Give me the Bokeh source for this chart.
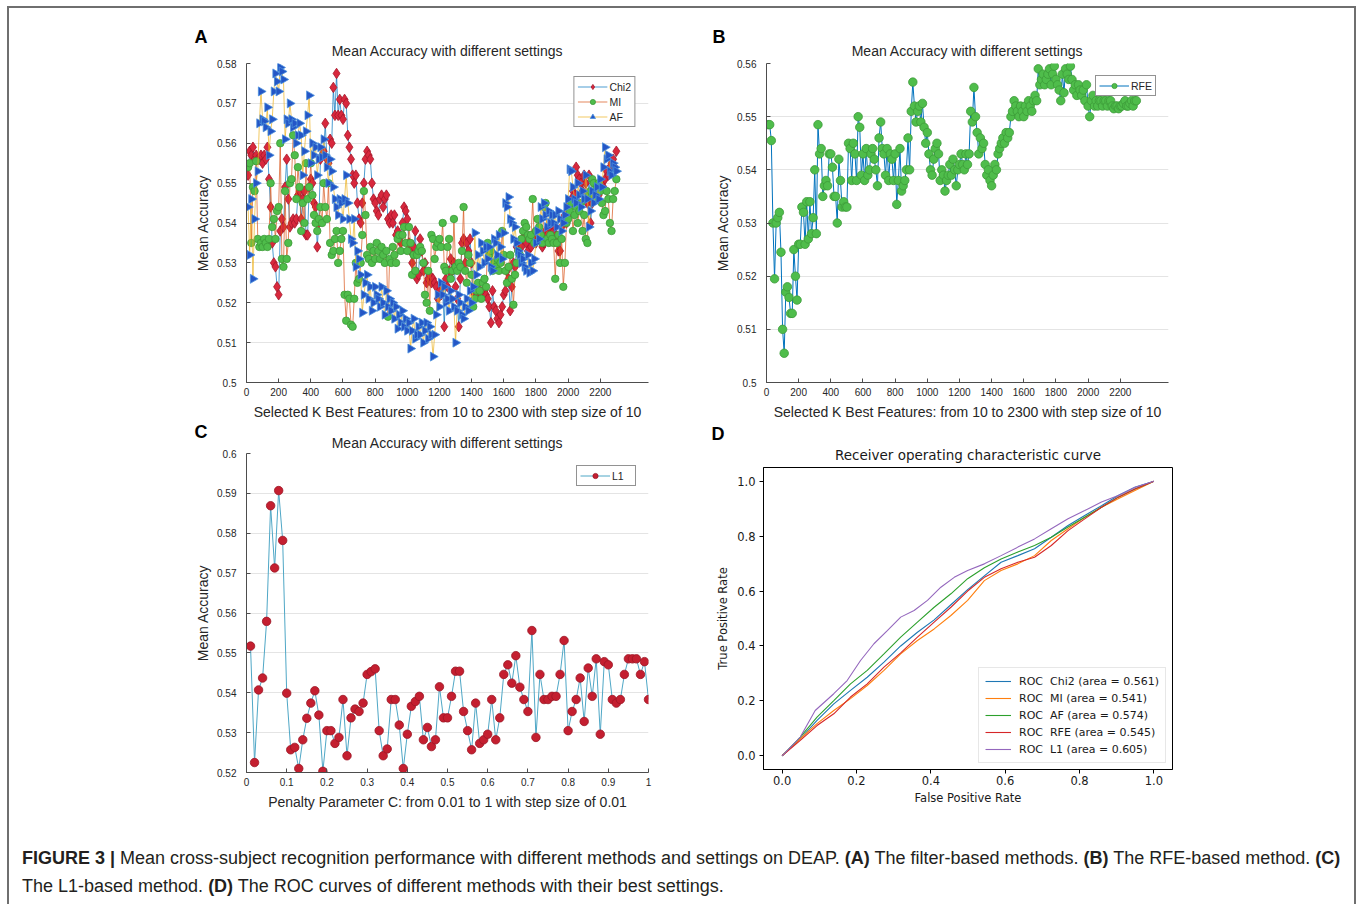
from bokeh.plotting import figure
from bokeh.models import (Range1d, FixedTicker, CustomJSTickFormatter, PrintfTickFormatter, Legend,
                          LegendItem, Title, Div, Spacer)
from bokeh.layouts import row, column
from bokeh.embed import file_html
from bokeh.resources import INLINE

# ---------------- data ----------------
k_best = list(range(10, 2301, 10))

chi2 = [
    0.552, 0.558, 0.557, 0.559, 0.556, 0.557, 0.556, 0.556, 0.557, 0.555,
    0.557, 0.556, 0.559, 0.551, 0.544, 0.535, 0.530, 0.529, 0.524, 0.522,
    0.538, 0.541, 0.539, 0.549, 0.556, 0.546, 0.539, 0.540, 0.541, 0.540,
    0.541, 0.547, 0.548, 0.541, 0.546, 0.548, 0.537, 0.537, 0.549, 0.551,
    0.550, 0.545, 0.544, 0.534, 0.540, 0.556, 0.557, 0.558, 0.565, 0.556,
    0.555, 0.561, 0.560, 0.574, 0.567, 0.5775, 0.567, 0.571, 0.567, 0.566,
    0.571, 0.570, 0.562, 0.559, 0.556, 0.552, 0.550, 0.552, 0.545, 0.541,
    0.540, 0.545, 0.550, 0.556, 0.558, 0.557, 0.556, 0.550, 0.546, 0.545,
    0.543, 0.542, 0.546, 0.547, 0.544, 0.546, 0.547, 0.541, 0.540, 0.542,
    0.540, 0.542, 0.537, 0.538, 0.536, 0.535, 0.540, 0.544, 0.543, 0.541,
    0.535, 0.533, 0.530, 0.534, 0.538, 0.526, 0.527, 0.536, 0.533, 0.528,
    0.530, 0.525, 0.526, 0.527, 0.525, 0.526, 0.525, 0.524, 0.521, 0.523,
    0.522, 0.524, 0.514, 0.526, 0.524, 0.528, 0.531, 0.528, 0.530, 0.524,
    0.521, 0.514, 0.526, 0.535, 0.536, 0.530, 0.535, 0.533, 0.536, 0.530,
    0.523, 0.522, 0.523, 0.522, 0.523, 0.522, 0.523, 0.523, 0.522, 0.521,
    0.519, 0.515, 0.523, 0.519, 0.518, 0.516, 0.515, 0.517, 0.519, 0.522,
    0.523, 0.528, 0.526, 0.518, 0.524, 0.530, 0.529, 0.534, 0.533, 0.532,
    0.534, 0.536, 0.537, 0.535, 0.533, 0.536, 0.534, 0.537, 0.536, 0.535,
    0.537, 0.538, 0.536, 0.534, 0.535, 0.538, 0.537, 0.536, 0.539, 0.537,
    0.538, 0.539, 0.536, 0.533, 0.533, 0.539, 0.541, 0.542, 0.540, 0.542,
    0.545, 0.546, 0.548, 0.547, 0.554, 0.552, 0.551, 0.550, 0.548, 0.552,
    0.550, 0.545, 0.552, 0.540, 0.545, 0.547, 0.546, 0.548, 0.547, 0.549,
    0.550, 0.549, 0.551, 0.553, 0.552, 0.554, 0.555, 0.556, 0.554, 0.558,
]

mi = [
    0.554, 0.555, 0.535, 0.549, 0.548, 0.5555, 0.536, 0.534, 0.535, 0.534,
    0.536, 0.535, 0.534, 0.536, 0.550, 0.539, 0.541, 0.536, 0.543, 0.544,
    0.560, 0.531, 0.529, 0.548, 0.531, 0.535, 0.550, 0.551, 0.562, 0.557,
    0.546, 0.554, 0.549, 0.538, 0.545, 0.540, 0.555, 0.546, 0.549, 0.555,
    0.547, 0.542, 0.540, 0.538, 0.541, 0.544, 0.540, 0.550, 0.544, 0.541,
    0.550, 0.535, 0.532, 0.533, 0.536, 0.538, 0.530, 0.533, 0.536, 0.538,
    0.522, 0.5155, 0.522, 0.521, 0.5145, 0.514, 0.521, 0.530, 0.525, 0.526,
    0.530, 0.537, 0.548, 0.542, 0.532, 0.531, 0.534, 0.530, 0.533, 0.531,
    0.535, 0.533, 0.531, 0.534, 0.532, 0.530, 0.533, 0.5165, 0.531, 0.530,
    0.534, 0.532, 0.530, 0.536, 0.537, 0.533, 0.537, 0.539, 0.535, 0.533,
    0.539, 0.535, 0.527, 0.532, 0.528, 0.532, 0.533, 0.534, 0.533, 0.530,
    0.522, 0.520, 0.528, 0.518, 0.537, 0.536, 0.531, 0.534, 0.535, 0.536,
    0.534, 0.540, 0.529, 0.528, 0.534, 0.536, 0.526, 0.528, 0.541, 0.529,
    0.528, 0.530, 0.529, 0.533, 0.544, 0.528, 0.525, 0.532, 0.530, 0.527,
    0.519, 0.521, 0.523, 0.525, 0.523, 0.521, 0.525, 0.526, 0.524, 0.535,
    0.532, 0.533, 0.528, 0.530, 0.529, 0.531, 0.528, 0.530, 0.538, 0.532,
    0.528, 0.525, 0.529, 0.532, 0.526, 0.5195, 0.527, 0.530, 0.533, 0.532,
    0.536, 0.538, 0.540, 0.539, 0.537, 0.536, 0.537, 0.546, 0.535, 0.538,
    0.541, 0.539, 0.537, 0.535, 0.544, 0.545, 0.536, 0.535, 0.537, 0.536,
    0.535, 0.526, 0.535, 0.537, 0.530, 0.536, 0.524, 0.530, 0.540, 0.541,
    0.543, 0.545, 0.538, 0.542, 0.544, 0.540, 0.543, 0.545, 0.538, 0.542,
    0.536, 0.535, 0.547, 0.548, 0.551, 0.550, 0.546, 0.549, 0.550, 0.548,
    0.545, 0.542, 0.543, 0.548, 0.546, 0.540, 0.538, 0.546, 0.548, 0.551,
]

af = [
    0.544, 0.532, 0.546, 0.526, 0.541, 0.550, 0.553, 0.565, 0.573, 0.566,
    0.5655, 0.564, 0.569, 0.557, 0.563, 0.566, 0.573, 0.5775, 0.5755, 0.573,
    0.579, 0.578, 0.576, 0.561, 0.566, 0.565, 0.570, 0.566, 0.564, 0.565,
    0.560, 0.562, 0.565, 0.562, 0.552, 0.558, 0.563, 0.567, 0.572, 0.555,
    0.560, 0.557, 0.559, 0.552, 0.556, 0.559, 0.5565, 0.561, 0.557, 0.554,
    0.550, 0.556, 0.553, 0.549, 0.546, 0.544, 0.542, 0.546, 0.545, 0.541,
    0.546, 0.552, 0.545, 0.541, 0.536, 0.535, 0.541, 0.529, 0.533, 0.531,
    0.527, 0.5175, 0.522, 0.525, 0.527, 0.521, 0.524, 0.518, 0.520, 0.524,
    0.522, 0.521, 0.519, 0.524, 0.520, 0.517, 0.523, 0.519, 0.521, 0.518,
    0.520, 0.516, 0.519, 0.5135, 0.517, 0.515, 0.518, 0.514, 0.516, 0.513,
    0.515, 0.5085, 0.513, 0.516, 0.511, 0.512, 0.514, 0.512, 0.515, 0.510,
    0.513, 0.515, 0.511, 0.514, 0.512, 0.5065, 0.512, 0.517, 0.522, 0.519,
    0.525, 0.522, 0.524, 0.520, 0.521, 0.518, 0.523, 0.521, 0.519, 0.510,
    0.518, 0.522, 0.520, 0.517, 0.516, 0.519, 0.521, 0.518, 0.523, 0.520,
    0.524, 0.5375, 0.527, 0.532, 0.529, 0.535, 0.533, 0.530, 0.534, 0.531,
    0.534, 0.529, 0.528, 0.536, 0.535, 0.532, 0.537, 0.534, 0.531, 0.5375,
    0.545, 0.544, 0.5465, 0.541, 0.540, 0.536, 0.539, 0.535, 0.533, 0.532,
    0.530, 0.531, 0.529, 0.528, 0.532, 0.5275, 0.530, 0.528, 0.531, 0.535,
    0.538, 0.536, 0.544, 0.541, 0.545, 0.542, 0.539, 0.543, 0.540, 0.542,
    0.540, 0.542, 0.539, 0.543, 0.541, 0.538, 0.540, 0.542, 0.544, 0.546,
    0.5535, 0.553, 0.549, 0.546, 0.545, 0.550, 0.547, 0.544, 0.548, 0.546,
    0.552, 0.546, 0.539, 0.543, 0.548, 0.545, 0.547, 0.549, 0.546, 0.551,
    0.549, 0.554, 0.559, 0.556, 0.557, 0.553, 0.552, 0.555, 0.554, 0.553,
]

rfe = [
    0.5485, 0.5485, 0.5455, 0.530, 0.5195, 0.530, 0.531, 0.532, 0.5245, 0.510,
    0.5055, 0.517, 0.518, 0.516, 0.513, 0.513, 0.525, 0.520, 0.5155, 0.526,
    0.526, 0.533, 0.532, 0.526, 0.534, 0.527, 0.534, 0.528, 0.531, 0.540,
    0.528, 0.5485, 0.543, 0.544, 0.535, 0.537, 0.538, 0.537, 0.543, 0.543,
    0.5405, 0.535, 0.535, 0.530, 0.542, 0.538, 0.533, 0.534, 0.533, 0.533,
    0.545, 0.544, 0.538, 0.545, 0.543, 0.538, 0.550, 0.548, 0.539, 0.543,
    0.538, 0.544, 0.539, 0.540, 0.543, 0.544, 0.542, 0.540, 0.537, 0.546,
    0.549, 0.544, 0.543, 0.539, 0.544, 0.538, 0.543, 0.542, 0.538, 0.543,
    0.5335, 0.538, 0.544, 0.536, 0.537, 0.538, 0.540, 0.546, 0.540, 0.551,
    0.5565, 0.552, 0.549, 0.551, 0.552, 0.549, 0.5525, 0.548, 0.545, 0.547,
    0.543, 0.540, 0.539, 0.542, 0.544, 0.545, 0.543, 0.538, 0.540, 0.539,
    0.536, 0.538, 0.539, 0.541, 0.539, 0.542, 0.540, 0.537, 0.540, 0.541,
    0.543, 0.541, 0.540, 0.543, 0.541, 0.543, 0.551, 0.549, 0.5555, 0.550,
    0.547, 0.543, 0.546, 0.544, 0.545, 0.541, 0.539, 0.540, 0.538, 0.537,
    0.539, 0.541, 0.540, 0.543, 0.544, 0.545, 0.546, 0.545, 0.547, 0.546,
    0.547, 0.550, 0.551, 0.553, 0.552, 0.551, 0.550, 0.552, 0.551, 0.550,
    0.552, 0.551, 0.553, 0.552, 0.551, 0.553, 0.554, 0.553, 0.559, 0.556,
    0.557, 0.558, 0.556, 0.557, 0.558, 0.559, 0.556, 0.558, 0.5595, 0.557,
    0.556, 0.555, 0.553, 0.558, 0.5545, 0.559, 0.558, 0.557, 0.5595, 0.557,
    0.555, 0.556, 0.554, 0.556, 0.555, 0.554, 0.555, 0.553, 0.556, 0.552,
    0.550, 0.553, 0.554, 0.552, 0.553, 0.552, 0.553, 0.553, 0.552, 0.553,
    0.553, 0.552, 0.553, 0.553, 0.552, 0.5515, 0.552, 0.552, 0.5515, 0.552,
    0.552, 0.5525, 0.553, 0.552, 0.552, 0.5525, 0.553, 0.552, 0.553, 0.553,
]

penalty_c = [round(0.01 * i, 2) for i in range(1, 101)]
l1 = [
    0.5517, 0.5225, 0.5407, 0.5437, 0.5579, 0.5869, 0.5713, 0.5907, 0.5782, 0.5399,
    0.5257, 0.5263, 0.5210, 0.5282, 0.5336, 0.5374, 0.5405, 0.5344, 0.5203, 0.5305,
    0.5305, 0.5273, 0.5288, 0.5383, 0.5242, 0.5337, 0.5359, 0.5353, 0.5374, 0.5446,
    0.5453, 0.5460, 0.5305, 0.5242, 0.5259, 0.5383, 0.5383, 0.5319, 0.5210, 0.5296,
    0.5366, 0.5378, 0.5391, 0.5282, 0.5313, 0.5265, 0.5282, 0.5415, 0.5337, 0.5337,
    0.5391, 0.5454, 0.5454, 0.5353, 0.5305, 0.5257, 0.5374, 0.5273, 0.5282, 0.5296,
    0.5383, 0.5282, 0.5337, 0.5446, 0.5470, 0.5424, 0.5493, 0.5414, 0.5383, 0.5353,
    0.5556, 0.5288, 0.5446, 0.5383, 0.5383, 0.5391, 0.5391, 0.5446, 0.5531, 0.5305,
    0.5353, 0.5383, 0.5437, 0.5328, 0.5462, 0.5391, 0.5485, 0.5296, 0.5478, 0.5470,
    0.5383, 0.5374, 0.5383, 0.5446, 0.5485, 0.5485, 0.5485, 0.5446, 0.5478, 0.5383,
]

# ROC curves (panel D)
fpr_l1 = [0, 0.049, 0.089, 0.139, 0.175, 0.211, 0.247, 0.283, 0.319, 0.355, 0.391, 0.427,
          0.463, 0.499, 0.544, 0.589, 0.634, 0.679, 0.724, 0.769, 0.814, 0.859, 0.904, 0.949, 1.0]
tpr_l1 = [0, 0.068, 0.165, 0.226, 0.274, 0.347, 0.408, 0.456, 0.505, 0.529, 0.566, 0.614,
          0.650, 0.675, 0.699, 0.729, 0.760, 0.790, 0.827, 0.863, 0.893, 0.924, 0.948, 0.978, 1.0]
fpr_grid = [0, 0.049, 0.094, 0.139, 0.184, 0.229, 0.274, 0.319, 0.364, 0.409, 0.454, 0.499,
            0.544, 0.589, 0.634, 0.679, 0.724, 0.769, 0.814, 0.859, 0.904, 0.949, 1.0]
tpr_chi2 = [0, 0.062, 0.129, 0.189, 0.238, 0.286, 0.341, 0.400, 0.450, 0.495, 0.550, 0.605,
            0.655, 0.705, 0.729, 0.754, 0.796, 0.839, 0.875, 0.911, 0.948, 0.978, 1.0]
tpr_mi = [0, 0.062, 0.117, 0.165, 0.208, 0.256, 0.311, 0.371, 0.420, 0.462, 0.511, 0.566,
          0.638, 0.675, 0.699, 0.729, 0.784, 0.827, 0.869, 0.905, 0.936, 0.966, 1.0]
tpr_af = [0, 0.068, 0.141, 0.201, 0.262, 0.311, 0.371, 0.432, 0.487, 0.541, 0.590, 0.645,
          0.685, 0.717, 0.742, 0.766, 0.796, 0.833, 0.869, 0.905, 0.942, 0.972, 1.0]
tpr_rfe = [0, 0.056, 0.110, 0.153, 0.214, 0.262, 0.323, 0.375, 0.432, 0.487, 0.541, 0.600,
           0.650, 0.681, 0.705, 0.723, 0.766, 0.820, 0.863, 0.905, 0.942, 0.972, 1.0]

roc_labels = ["ROC  Chi2 (area = 0.561)", "ROC  MI (area = 0.541)", "ROC  AF (area = 0.574)",
              "ROC  RFE (area = 0.545)", "ROC  L1 (area = 0.605)"]

k_ticks = list(range(0, 2201, 200))
acc_ticks_a = [0.5, 0.51, 0.52, 0.53, 0.54, 0.55, 0.56, 0.57, 0.58]
acc_ticks_b = [0.5, 0.51, 0.52, 0.53, 0.54, 0.55, 0.56]
acc_ticks_c = [0.52, 0.53, 0.54, 0.55, 0.56, 0.57, 0.58, 0.59, 0.6]
c_ticks = [0, 0.1, 0.2, 0.3, 0.4, 0.5, 0.6, 0.7, 0.8, 0.9, 1.0]
roc_ticks = [0, 0.2, 0.4, 0.6, 0.8, 1.0]

# ---------------- styling helpers ----------------
MAT_FONT = "Liberation Sans"
MPL_FONT = "DejaVu Sans"
TXT = "#262626"
fmt = CustomJSTickFormatter(code="return String(Math.round(tick*100)/100);")

FW, FH = 402, 319


def add_titles(p, text, font, size, color, title_standoff, letter, letter_offset, letter_standoff):
    # inner title (chart title), then outer title (panel letter) stacked above it
    p.add_layout(Title(text=text, align="center", text_font=font, text_font_size=size,
                       text_font_style="normal", text_color=color, standoff=title_standoff), "above")
    p.add_layout(Title(text=letter, align="left", offset=letter_offset, text_font=MAT_FONT,
                       text_font_size="18px", text_font_style="bold", text_color="black",
                       standoff=letter_standoff), "above")


def matlab_fig(xr, yr, xticks, yticks, xlabel, mb):
    p = figure(frame_width=FW, frame_height=FH, x_range=xr, y_range=yr,
               output_backend="svg", toolbar_location=None, frame_align=False,
               title_location=None,
               min_border_left=mb[0], min_border_right=mb[1],
               min_border_top=mb[2], min_border_bottom=mb[3])
    p.outline_line_color = None
    p.background_fill_color = "white"
    p.border_fill_color = "white"
    p.xgrid.grid_line_color = None
    p.ygrid.grid_line_color = "#e4e4e4"
    p.ygrid.grid_line_width = 1
    for ax in (p.xaxis[0], p.yaxis[0]):
        ax.axis_line_color = "#4d4d4d"
        ax.major_tick_line_color = "#4d4d4d"
        ax.major_tick_in = 4
        ax.major_tick_out = 0
        ax.minor_tick_line_color = None
        ax.major_label_text_font = MAT_FONT
        ax.major_label_text_font_size = "10px"
        ax.major_label_text_color = TXT
        ax.axis_label_text_font = MAT_FONT
        ax.axis_label_text_font_size = "14px"
        ax.axis_label_text_font_style = "normal"
        ax.axis_label_text_color = TXT
    p.xaxis.ticker = FixedTicker(ticks=xticks)
    p.yaxis.ticker = FixedTicker(ticks=yticks)
    p.xaxis.formatter = fmt
    p.yaxis.formatter = fmt
    p.xaxis.axis_label = xlabel
    p.yaxis.axis_label = "Mean Accuracy"
    p.xaxis.major_label_standoff = 5
    p.xaxis.axis_label_standoff = 5
    p.yaxis.major_label_standoff = 10
    p.yaxis.axis_label_standoff = 3
    return p


def matlab_legend(items, margin_x):
    lg = Legend(items=items, location="top_right")
    lg.border_line_color = "#262626"
    lg.border_line_width = 1
    lg.background_fill_color = "white"
    lg.background_fill_alpha = 1
    lg.label_text_font = MAT_FONT
    lg.label_text_font_size = "10.5px"
    lg.label_text_color = TXT
    lg.glyph_width = 30
    lg.glyph_height = 13
    lg.label_height = 13
    lg.spacing = 2
    lg.padding = 3
    lg.label_standoff = 2
    lg.margin = margin_x
    return lg


RED_F, RED_E = "#d8283d", "#a5172a"
GRN_F, GRN_E = "#4fbd4b", "#3c9a39"
BLU_F, BLU_E = "#2456c6", "#4a8fdc"
CHART_TITLE = "Mean Accuracy with different settings"

# ---------------- panel A ----------------
pa = matlab_fig(Range1d(0, 2500), Range1d(0.5, 0.58), k_ticks, acc_ticks_a,
                "Selected K Best Features: from 10 to 2300 with step size of 10", (66, 52, 55, 40))
la1 = pa.line(k_best, chi2, line_color="#0072BD", line_width=0.7)
sa1 = pa.scatter(k_best, chi2, marker="diamond", size=10.5, fill_color=RED_F, line_color=RED_E, line_width=0.8)
la2 = pa.line(k_best, mi, line_color="#D95319", line_width=0.7)
sa2 = pa.scatter(k_best, mi, marker="circle", size=7.5, fill_color=GRN_F, line_color=GRN_E, line_width=0.8)
la3 = pa.line(k_best, af, line_color="#EDB120", line_width=0.7)
sa3 = pa.scatter(k_best, af, marker="triangle", angle=-1.5708, size=9, fill_color=BLU_F,
                 line_color=BLU_E, line_width=0.8)
pa.add_layout(matlab_legend([LegendItem(label="Chi2", renderers=[la1, sa1]),
                             LegendItem(label="MI", renderers=[la2, sa2]),
                             LegendItem(label="AF", renderers=[la3, sa3])], 13))
add_titles(pa, CHART_TITLE, MAT_FONT, "14px", TXT, 10, "A", -52, -22)

# ---------------- panel B ----------------
pb = matlab_fig(Range1d(0, 2500), Range1d(0.5, 0.56), k_ticks, acc_ticks_b,
                "Selected K Best Features: from 10 to 2300 with step size of 10", (66, 186, 55, 40))
lb = pb.line(k_best, rfe, line_color="#0072BD", line_width=1)
sb = pb.scatter(k_best, rfe, marker="circle", size=8.5, fill_color=GRN_F, line_color=GRN_E, line_width=0.8)
pb.add_layout(matlab_legend([LegendItem(label="RFE", renderers=[lb, sb])], 12))
add_titles(pb, CHART_TITLE, MAT_FONT, "14px", TXT, 10, "B", -54, -22)

# ---------------- panel C ----------------
pc = matlab_fig(Range1d(0, 1), Range1d(0.52, 0.6), c_ticks, acc_ticks_c,
                "Penalty Parameter C: from 0.01 to 1 with step size of 0.01", (66, 52, 31, 43))
lc = pc.line(penalty_c, l1, line_color="#4fa7c6", line_width=1)
sc = pc.scatter(penalty_c, l1, marker="circle", size=8.5, fill_color="#c41f30", line_color="#9c1726",
                line_width=0.8)
pc.add_layout(matlab_legend([LegendItem(label="L1", renderers=[lc, sc])], 12))
add_titles(pc, CHART_TITLE, MAT_FONT, "14px", TXT, 5, "C", -52, -23)

# ---------------- panel D ----------------
DFW, DFH = 409, 302
pd_ = figure(frame_width=DFW, frame_height=DFH, x_range=Range1d(-0.05, 1.05), y_range=Range1d(-0.05, 1.05),
             output_backend="svg", toolbar_location=None, frame_align=False, title_location=None,
             min_border_left=63, min_border_right=173, min_border_top=45, min_border_bottom=46)
pd_.outline_line_color = "black"
pd_.outline_line_width = 1
pd_.grid.grid_line_color = None
for ax in (pd_.xaxis[0], pd_.yaxis[0]):
    ax.axis_line_color = "black"
    ax.major_tick_line_color = "black"
    ax.major_tick_in = 0
    ax.major_tick_out = 4
    ax.minor_tick_line_color = None
    ax.major_label_text_font = MPL_FONT
    ax.major_label_text_font_size = "11.5px"
    ax.major_label_text_color = "#1a1a1a"
    ax.axis_label_text_font = MPL_FONT
    ax.axis_label_text_font_size = "11.5px"
    ax.axis_label_text_font_style = "normal"
    ax.axis_label_text_color = "#1a1a1a"
    ax.ticker = FixedTicker(ticks=roc_ticks)
    ax.formatter = PrintfTickFormatter(format="%.1f")
pd_.xaxis.axis_label = "False Positive Rate"
pd_.yaxis.axis_label = "True Positive Rate"
pd_.xaxis.major_label_standoff = 2
pd_.xaxis.axis_label_standoff = 3
pd_.yaxis.major_label_standoff = 4
pd_.yaxis.axis_label_standoff = 4

roc_series = [(fpr_grid, tpr_chi2, "#1f77b4"), (fpr_grid, tpr_mi, "#ff7f0e"),
              (fpr_grid, tpr_af, "#2ca02c"), (fpr_grid, tpr_rfe, "#d62728"),
              (fpr_l1, tpr_l1, "#9467bd")]
d_items = []
for (fx, ty, col), lab in zip(roc_series, roc_labels):
    r = pd_.line(fx, ty, line_color=col, line_width=1.1)
    d_items.append(LegendItem(label=lab, renderers=[r]))
lgd = Legend(items=d_items, location="bottom_right")
lgd.border_line_color = "#d0d0d0"
lgd.background_fill_alpha = 0.85
lgd.label_text_font = MPL_FONT
lgd.label_text_font_size = "11px"
lgd.label_text_color = "#1a1a1a"
lgd.glyph_width = 26
lgd.glyph_height = 14
lgd.label_height = 14
lgd.spacing = 3
lgd.padding = 6
lgd.label_standoff = 8
lgd.margin = 6
pd_.add_layout(lgd)
add_titles(pd_, "Receiver operating characteristic curve", MPL_FONT, "13.5px", "#1a1a1a", 9, "D", -52, -6)

# ---------------- layout ----------------
caption_html = ("<b>FIGURE 3 |</b> Mean cross-subject recognition performance with different methods and "
                "settings on DEAP. <b>(A)</b> The filter-based methods. <b>(B)</b> The RFE-based method. "
                "<b>(C)</b><br>The L1-based method. <b>(D)</b> The ROC curves of different methods with "
                "their best settings.")
caption = Div(text=caption_html, width=1345, height=89, margin=(0, 0, 0, 0),
              styles={"font-family": "Liberation Sans, Arial, sans-serif", "font-size": "18px",
                      "line-height": "28px", "color": "#231f20", "padding-top": "29px",
                      "padding-left": "13px", "white-space": "nowrap", "box-sizing": "border-box"})

line_style = {"background-color": "#6f6f6f"}
top_line = Div(text="", width=1349, height=2, margin=(6, 0, 0, 7), styles=line_style)
left_line = Div(text="", width=2, height=896, margin=(0, 0, 0, 7), styles=line_style)
right_line = Div(text="", width=2, height=896, margin=(0, 0, 0, 0), styles=line_style)

row1 = row(Spacer(width=171, height=414), pa, pb, spacing=0)
row2 = row(Spacer(width=171, height=393), pc, pd_, spacing=0)
content = column(row1, row2, caption, spacing=0)
root = column(top_line, row(left_line, content, right_line, spacing=0), spacing=0)

open("out.html", "w").write(file_html(root, INLINE))
